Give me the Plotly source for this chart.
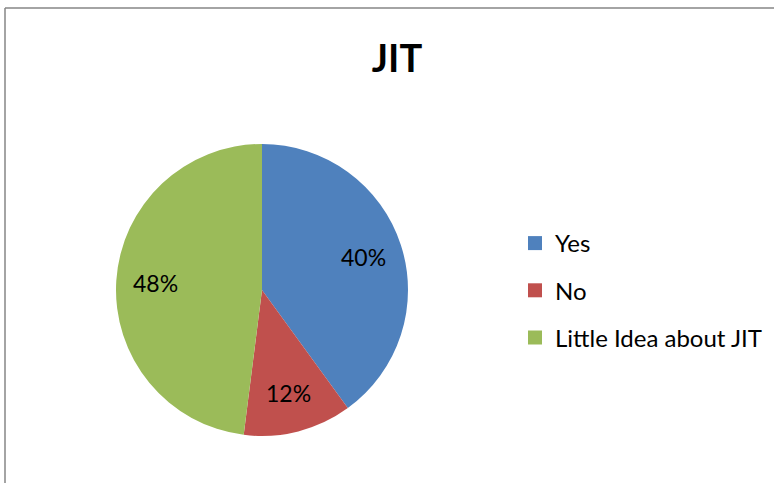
import math
import plotly.graph_objects as go

# Survey responses about Just-In-Time awareness
categories = ["Yes", "No", "Little Idea about JIT"]
shares = [40, 12, 48]
colors = ["#4F81BD", "#C0504D", "#9BBB59"]

W, H = 774, 483
cx, cy, r = 262, 290, 146  # pie centre / radius in px
label_r = 0.73             # label distance as a fraction of the radius

fig = go.Figure()

fig.add_trace(go.Pie(
    labels=categories,
    values=shares,
    marker=dict(colors=colors, line=dict(color="white", width=0)),
    sort=False,
    direction="clockwise",
    rotation=0,
    textinfo="none",
    showlegend=False,
    hoverinfo="label+percent",
    domain=dict(x=[(cx - r) / W, (cx + r) / W],
                y=[(H - cy - r) / H, (H - cy + r) / H]),
))

# Percentage labels placed at each slice's mid angle
total = sum(shares)
annotations = []
acc = 0
for v in shares:
    mid = (acc + v / 2) / total * 2 * math.pi  # clockwise from 12 o'clock
    acc += v
    px = cx + label_r * r * math.sin(mid)
    py = cy - label_r * r * math.cos(mid)
    annotations.append(dict(
        x=px / W, y=1 - py / H, xref="paper", yref="paper",
        text=f"{round(v / total * 100)}%", showarrow=False,
        xanchor="center", yanchor="middle",
        font=dict(family="Lato", size=23, color="black"),
    ))

# Legend entries (one per category, separate groups for spacing)
for name, col in zip(categories, colors):
    fig.add_trace(go.Scatter(
        x=[None], y=[None], mode="markers", name=name,
        marker=dict(symbol="square", size=14, color=col),
        legendgroup=name, showlegend=True,
    ))

fig.update_layout(
    width=W, height=H,
    margin=dict(l=0, r=0, t=0, b=0),
    paper_bgcolor="white", plot_bgcolor="white",
    title=dict(text="<b>JIT</b>", x=397 / W, xanchor="center",
               y=1 - 59 / H, yanchor="middle",
               font=dict(family="Lato", size=38, color="black")),
    xaxis=dict(visible=False), yaxis=dict(visible=False),
    legend=dict(x=515 / W, y=1 - 221 / H, xanchor="left", yanchor="top",
                font=dict(family="Lato", size=24, color="black"),
                tracegroupgap=13, itemwidth=30,
                bgcolor="rgba(0,0,0,0)"),
    annotations=annotations,
    shapes=[
        dict(type="line", xref="paper", yref="paper",
             x0=5 / W, x1=1, y0=1 - 8 / H, y1=1 - 8 / H,
             line=dict(color="#868686", width=1.5)),
        dict(type="line", xref="paper", yref="paper",
             x0=5 / W, x1=5 / W, y0=0, y1=1 - 8 / H,
             line=dict(color="#868686", width=1.5)),
    ],
)

fig.write_html("out.html")
